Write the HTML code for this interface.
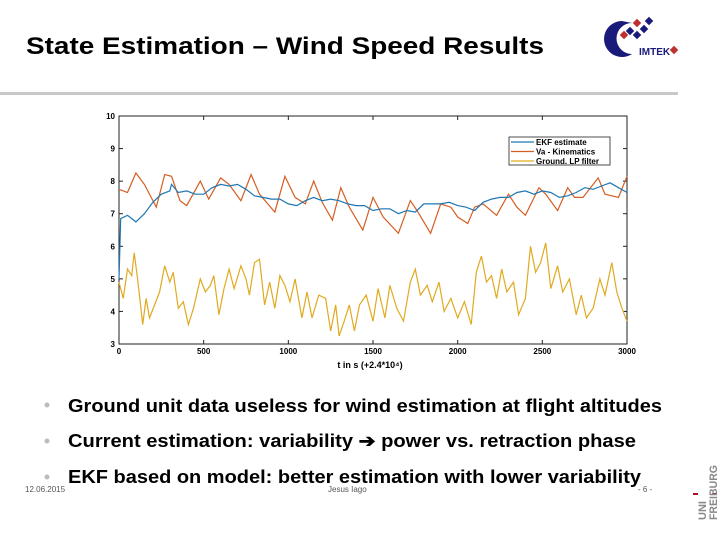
<!DOCTYPE html>
<html><head><meta charset="utf-8"><style>
html,body{margin:0;padding:0;background:#fff;}
svg{display:block;font-family:"Liberation Sans",Arial,sans-serif;}
</style></head><body>
<svg id="s" width="720" height="540" viewBox="0 0 720 540">
<text x="26" y="54" font-size="24" font-weight="bold" textLength="518" lengthAdjust="spacingAndGlyphs">State Estimation – Wind Speed Results</text>
<rect x="0" y="92" width="678" height="3" fill="#c8c8c8"/>
<g>
<path d="M622,21 a18,18 0 1 0 10,33 a13,13 0 1 1 0,-31 z" fill="#1a1a7a"/>
<rect x="627" y="28" width="6" height="6" fill="#1a1a7a" transform="rotate(45 630 31)"/>
<rect x="634" y="20" width="6" height="6" fill="#c03030" transform="rotate(45 637 23)"/>
<rect x="634" y="32" width="6" height="6" fill="#1a1a7a" transform="rotate(45 637 35)"/>
<rect x="641" y="26" width="6" height="6" fill="#1a1a7a" transform="rotate(45 644 29)"/>
<rect x="646" y="18" width="6" height="6" fill="#1a1a7a" transform="rotate(45 649 21)"/>
<rect x="621" y="32" width="6" height="6" fill="#c03030" transform="rotate(45 624 35)"/>
<text x="639" y="55" font-size="10" font-weight="bold" fill="#1a1a7a">IMTEK</text>
<rect x="671" y="47" width="6" height="6" fill="#c03030" transform="rotate(45 674 50)"/>
</g>
<g id="chart"></g>
<g>
<circle cx="47" cy="405" r="2.5" fill="#bbb"/>
<text x="68" y="412" font-size="18" font-weight="bold" textLength="594" lengthAdjust="spacingAndGlyphs">Ground unit data useless for wind estimation at flight altitudes</text>
<circle cx="47" cy="441" r="2.5" fill="#bbb"/>
<text x="68" y="447" font-size="18" font-weight="bold" textLength="568" lengthAdjust="spacingAndGlyphs">Current estimation: variability ➔ power vs. retraction phase</text>
<circle cx="47" cy="477" r="2.5" fill="#bbb"/>
<text x="68" y="483" font-size="18" font-weight="bold" textLength="573" lengthAdjust="spacingAndGlyphs">EKF based on model: better estimation with lower variability</text>
</g>
<text x="25" y="492" font-size="8" fill="#555">12.06.2015</text>
<text x="328" y="492" font-size="8" fill="#555">Jesus Iago</text>
<text x="638" y="492" font-size="8" fill="#555">- 6 -</text>
<g>
<rect x="693" y="493" width="5" height="2" fill="#b01030"/><rect x="712" y="493" width="5" height="2" fill="#b01030"/>
<text transform="translate(706,520) rotate(-90)" font-size="11" font-weight="bold" fill="#888" textLength="19" lengthAdjust="spacingAndGlyphs">UNI</text>
<text transform="translate(717,520) rotate(-90)" font-size="11" font-weight="bold" fill="#888" textLength="55" lengthAdjust="spacingAndGlyphs">FREIBURG</text>
</g>
</svg>
<script>
const xTicks=[0,500,1000,1500,2000,2500,3000];
const yTicks=[3,4,5,6,7,8,9,10];
const ekfT=[0,10,50,100,150,200,250,300,310,350,400,450,500,550,600,650,700,750,800,850,900,950,1000,1050,1100,1150,1200,1250,1300,1350,1400,1450,1500,1550,1600,1650,1700,1750,1800,1850,1900,1950,2000,2050,2100,2150,2200,2250,2300,2350,2400,2450,2500,2550,2600,2650,2700,2750,2800,2850,2900,2950,3000];
const ekfV=[5,6.85,6.95,6.75,7.0,7.35,7.6,7.7,7.9,7.65,7.7,7.6,7.6,7.8,7.9,7.85,7.9,7.75,7.55,7.5,7.45,7.45,7.3,7.25,7.4,7.5,7.4,7.45,7.4,7.3,7.25,7.25,7.1,7.15,7.15,7.0,7.1,7.05,7.3,7.3,7.3,7.35,7.25,7.2,7.1,7.35,7.45,7.5,7.5,7.65,7.7,7.6,7.7,7.65,7.5,7.55,7.65,7.8,7.75,7.85,7.95,7.8,7.65];
const vaT=[0,50,100,150,220,270,310,360,400,480,530,600,650,720,780,830,920,980,1040,1100,1150,1200,1260,1310,1360,1440,1500,1560,1650,1720,1760,1840,1900,1960,2000,2060,2100,2150,2230,2300,2350,2400,2480,2520,2590,2650,2690,2740,2830,2870,2950,3000];
const vaV=[7.75,7.65,8.25,7.9,7.2,8.2,8.15,7.4,7.25,8.0,7.45,8.1,7.9,7.4,8.2,7.6,7.05,8.15,7.5,7.3,8.0,7.35,6.8,7.8,7.2,6.5,7.5,6.9,6.4,7.4,7.1,6.4,7.3,7.2,6.9,6.7,7.2,7.3,6.95,7.6,7.2,6.95,7.8,7.6,7.1,7.8,7.5,7.5,8.1,7.6,7.5,8.15];
const gT=[0,25,50,75,90,110,140,160,180,210,240,270,300,320,350,380,410,440,480,510,540,560,590,620,650,680,720,750,770,800,830,860,890,920,950,980,1010,1040,1080,1110,1140,1180,1220,1250,1280,1300,1330,1360,1390,1420,1460,1500,1530,1570,1600,1640,1680,1720,1750,1780,1820,1850,1890,1920,1960,2000,2040,2080,2110,2140,2170,2200,2230,2260,2290,2330,2360,2400,2430,2460,2490,2520,2550,2590,2620,2660,2700,2730,2760,2800,2840,2870,2910,2940,2970,3000];
const gV=[4.9,4.4,5.3,5.1,5.8,5.0,3.6,4.4,3.8,4.2,4.6,5.4,4.9,5.2,4.1,4.3,3.6,4.1,5.0,4.6,4.8,5.1,3.9,4.7,5.3,4.7,5.4,5.0,4.5,5.5,5.6,4.2,4.9,4.1,5.1,4.8,4.3,5.0,3.8,4.6,3.8,4.5,4.4,3.4,4.2,3.25,3.7,4.2,3.4,4.2,4.5,3.7,4.7,3.8,4.8,4.1,3.7,4.9,5.3,4.5,4.8,4.3,4.9,4.0,4.4,3.8,4.3,3.6,5.2,5.7,4.9,5.1,4.4,5.3,4.6,4.9,3.9,4.4,6.0,5.2,5.5,6.1,4.7,5.4,4.6,5.0,3.9,4.5,3.8,4.1,5.0,4.5,5.5,4.6,4.1,3.7];
const NS='http://www.w3.org/2000/svg';
const L=119,R=627,T=116,B=344;
const sx=t=>L+(t-0)/3000*(R-L);
const sy=v=>B-(v-3)/7*(B-T);
const g=document.getElementById('chart');
function mk(tag,attrs,parent){const e=document.createElementNS(NS,tag);for(const k in attrs)e.setAttribute(k,attrs[k]);(parent||g).appendChild(e);return e;}
const frame=mk('rect',{x:L,y:T,width:R-L,height:B-T,fill:'#fff',stroke:'#222','stroke-width':1});


xTicks.forEach(t=>{
 mk('line',{x1:sx(t),x2:sx(t),y1:B,y2:B-4,stroke:'#222'});mk('line',{x1:sx(t),x2:sx(t),y1:T,y2:T+4,stroke:'#222'});
 const tx=mk('text',{x:sx(t),y:B+10,'font-size':8,'font-weight':'bold','text-anchor':'middle'});tx.textContent=t;
 
 
});
yTicks.forEach(v=>{
 mk('line',{x1:L,x2:L+4,y1:sy(v),y2:sy(v),stroke:'#222'});mk('line',{x1:R,x2:R-4,y1:sy(v),y2:sy(v),stroke:'#222'});
 const tx=mk('text',{x:L-4,y:sy(v)+3,'font-size':8,'font-weight':'bold','text-anchor':'end'});tx.textContent=v;
 
 
});
const xt=mk('text',{x:(L+R)/2-3,y:B+24,'font-size':9,'font-weight':'bold','text-anchor':'middle'});xt.textContent='t in s (+2.4*10⁴)';


function line(ts,vs,color,name){
 const p=mk('polyline',{points:ts.map((t,i)=>sx(t).toFixed(1)+','+sy(vs[i]).toFixed(1)).join(' '),fill:'none',stroke:color,'stroke-width':1.2});
 
 
}
line(gT,gV,'#e0aa20','ground-lp-filter-line');
line(vaT,vaV,'#d55e22','va-kinematics-line');
line(ekfT,ekfV,'#1f77b4','ekf-estimate-line');
const lg=mk('g',{});


mk('rect',{x:509,y:137,width:101,height:28,fill:'#fff',stroke:'#222','stroke-width':0.8},lg);
[['EKF estimate','#1f77b4'],['Va - Kinematics','#d55e22'],['Ground. LP filter','#e0aa20']].forEach((d,i)=>{
 const y=142+i*9.5;
 mk('line',{x1:511,x2:534,y1:y,y2:y,stroke:d[1],'stroke-width':1.2},lg);
 const tx=mk('text',{x:536,y:y+3,'font-size':8,'font-weight':'bold'},lg);tx.textContent=d[0];
 
 
});
</script>
</body></html>
